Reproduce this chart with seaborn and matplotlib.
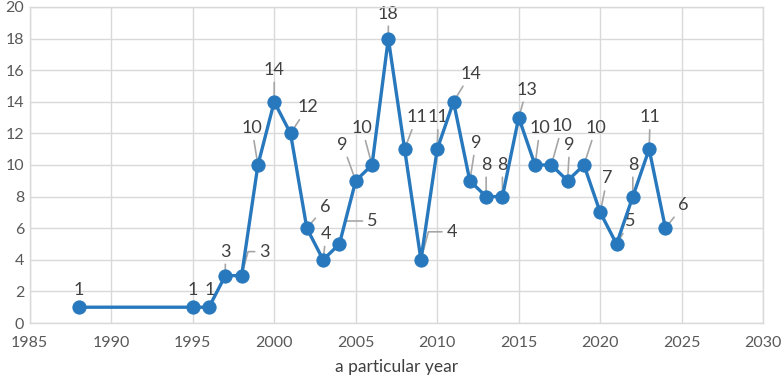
import pandas as pd
import seaborn as sns
import matplotlib.pyplot as plt

# data
years = [1988, 1995, 1996, 1997, 1998, 1999, 2000, 2001, 2002, 2003, 2004,
         2005, 2006, 2007, 2008, 2009, 2010, 2011, 2012, 2013, 2014, 2015,
         2016, 2017, 2018, 2019, 2020, 2021, 2022, 2023, 2024]
counts = [1, 1, 1, 3, 3, 10, 14, 12, 6, 4, 5,
          9, 10, 18, 11, 4, 11, 14, 9, 8, 8, 13,
          10, 10, 9, 10, 7, 5, 8, 11, 6]

# label offsets in pixels (dx, dy up) for the data labels
offsets = [(0, 17), (0, 17), (1, 17), (0, 24), (23, 24), (-6, 37), (0, 32),
           (17, 26), (18, 21), (3, 26), (33, 23), (-13, 36), (-10, 37),
           (0, 25), (12, 32), (31, 28), (1, 32), (17, 28), (6, 38), (0, 32),
           (0, 32), (8, 28), (5, 37), (11, 39), (2, 36), (12, 37), (7, 34),
           (14, 23), (0, 32), (1, 32), (18, 23)]
elbow = {1998, 2004, 2009}

df = pd.DataFrame({"year": years, "count": counts})

sns.set_style("whitegrid")
plt.rcParams["font.family"] = ["Lato", "DejaVu Sans"]

fig = plt.figure(figsize=(7.82, 3.85), dpi=100)
ax = fig.add_axes([0.038, 0.161, 0.938, 0.821])

blue = "#2878bd"
sns.lineplot(data=df, x="year", y="count", ax=ax, color=blue, lw=2.4,
             marker="o", markersize=9.5, markeredgecolor=blue, zorder=3)

for yr, c, (dx, dy) in zip(years, counts, offsets):
    if yr == 1988:
        ax.annotate(str(c), (yr, c), xytext=(dx, dy), textcoords="offset pixels",
                    ha="center", va="center", fontsize=13, color="#404040")
        continue
    if yr in elbow:
        cs = "angle,angleA=0,angleB=75,rad=0"
    else:
        cs = "arc3"
    ax.annotate(str(c), (yr, c), xytext=(dx, dy), textcoords="offset pixels",
                ha="center", va="center", fontsize=13, color="#404040",
                arrowprops=dict(arrowstyle="-", color="#a6a6a6", lw=1.2,
                                shrinkA=1, shrinkB=2, connectionstyle=cs),
                zorder=2)

ax.set_xlim(1985, 2030)
ax.set_ylim(0, 20)
ax.set_xticks(range(1985, 2031, 5))
ax.set_yticks(range(0, 21, 2))
ax.grid(True, color="#d9d9d9", lw=1)
for s in ax.spines.values():
    s.set_color("#d9d9d9")
    s.set_linewidth(1)
ax.tick_params(colors="#595959", labelsize=11.5, length=0, pad=9)
ax.tick_params(axis="y", pad=4)
ax.set_xlabel("a particular year", fontsize=12.5, color="#404040", labelpad=7)
ax.set_ylabel("")

fig.savefig("out.png", dpi=100)
